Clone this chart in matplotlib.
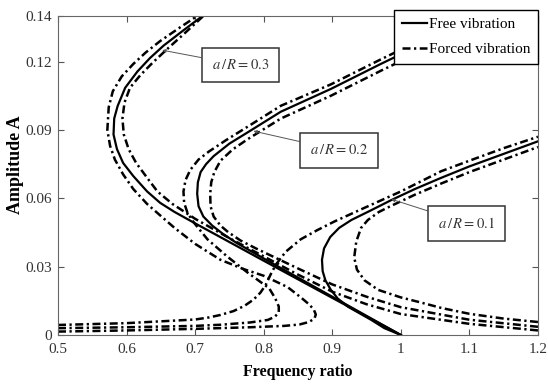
import matplotlib
matplotlib.use('Agg')
import matplotlib.pyplot as plt
from matplotlib.lines import Line2D

plt.rcParams['font.family'] = ['Liberation Serif', 'DejaVu Serif']
plt.rcParams['mathtext.fontset'] = 'stix'

# free vibration (backbone curves), frequency ratio / amplitude
free_01_x = [1.0, 0.976, 0.957, 0.94, 0.923, 0.908, 0.898, 0.89, 0.886, 0.885, 0.888, 0.897, 0.91, 0.928,
             0.955, 0.986, 1.02, 1.059, 1.1, 1.15, 1.2]
free_01_a = [0.0, 0.003, 0.0066, 0.0095, 0.0124, 0.016, 0.0198, 0.024, 0.028, 0.033, 0.038, 0.043, 0.047, 0.0505,
             0.0545, 0.0592, 0.064, 0.069, 0.074, 0.0795, 0.085]
free_02_x = [1.0, 0.9, 0.8, 0.76, 0.74, 0.725, 0.712, 0.705, 0.703, 0.704, 0.708, 0.716, 0.727, 0.75, 0.777,
             0.825, 0.898, 0.971, 1.04, 1.1]
free_02_a = [0.0, 0.0168, 0.0336, 0.0405, 0.0445, 0.048, 0.052, 0.0565, 0.062, 0.067, 0.0715, 0.075, 0.0785, 0.084,
             0.089, 0.098, 0.108, 0.119, 0.129, 0.138]
free_03_x = [1.0, 0.9, 0.8, 0.7, 0.67, 0.649, 0.63, 0.61, 0.595, 0.586, 0.581, 0.582, 0.587, 0.598, 0.6157, 0.634,
             0.654, 0.682, 0.712]
free_03_a = [0.0, 0.0163, 0.0326, 0.049, 0.054, 0.058, 0.063, 0.0697, 0.0755, 0.0816, 0.088, 0.095, 0.1005, 0.1085,
             0.1156, 0.1215, 0.127, 0.1335, 0.1403]

# forced vibration, branch left of backbone
forced_01_in_x = [0.5, 0.6, 0.7, 0.72, 0.737, 0.756, 0.772, 0.785, 0.795, 0.803, 0.81, 0.818, 0.832, 0.854, 0.878,
                  0.903, 0.952, 1.0, 1.059, 1.1, 1.15, 1.2]
forced_01_in_a = [0.0044, 0.0052, 0.0068, 0.0077, 0.0088, 0.0105, 0.0128, 0.0155, 0.0185, 0.022, 0.0265, 0.031,
                  0.0365, 0.042, 0.046, 0.0498, 0.0565, 0.063, 0.0719, 0.0765, 0.082, 0.087]
forced_02_in_x = [0.5, 0.6, 0.7, 0.737, 0.78, 0.806, 0.816, 0.822, 0.822, 0.817, 0.808, 0.777, 0.747, 0.718, 0.698,
                  0.689, 0.684, 0.683, 0.686, 0.693, 0.705, 0.72, 0.745, 0.777, 0.825, 0.898, 0.971, 1.04, 1.1]
forced_02_in_a = [0.003, 0.0034, 0.004, 0.0045, 0.0055, 0.0066, 0.008, 0.0098, 0.0125, 0.016, 0.0205, 0.0273, 0.0344,
                  0.042, 0.0494, 0.0535, 0.058, 0.063, 0.068, 0.0725, 0.077, 0.0805, 0.0855, 0.0915, 0.1006, 0.110,
                  0.121, 0.131, 0.1405]
forced_03_in_x = [0.5, 0.6, 0.7, 0.78, 0.83, 0.852, 0.866, 0.874, 0.876, 0.873, 0.866, 0.855, 0.835, 0.8, 0.77,
                  0.737, 0.7, 0.67, 0.649, 0.63, 0.61, 0.595, 0.583, 0.576, 0.572, 0.574, 0.58, 0.593, 0.61, 0.628,
                  0.649, 0.678, 0.708]
forced_03_in_a = [0.0015, 0.002, 0.0027, 0.0034, 0.004, 0.0046, 0.0057, 0.0072, 0.009, 0.0112, 0.0135, 0.0163,
                  0.021, 0.026, 0.029, 0.033, 0.04, 0.047, 0.0525, 0.0575, 0.064, 0.0705, 0.077, 0.083, 0.09, 0.1,
                  0.107, 0.1135, 0.119, 0.124, 0.129, 0.135, 0.141]

# forced vibration, branch right of backbone
forced_01_out_x = [1.2, 1.15, 1.1, 1.06, 1.03, 1.0, 0.967, 0.947, 0.936, 0.932, 0.935, 0.942, 0.952, 0.968, 0.986,
                   1.02, 1.059, 1.1, 1.15, 1.2]
forced_01_out_a = [0.0057, 0.0072, 0.0093, 0.0118, 0.0142, 0.0165, 0.0198, 0.024, 0.0287, 0.034, 0.041, 0.047, 0.0505,
                   0.054, 0.0567, 0.0615, 0.0665, 0.0715, 0.077, 0.0825]
forced_02_out_x = [1.2, 1.1, 1.0, 0.95, 0.9, 0.85, 0.82, 0.79, 0.766, 0.748, 0.737, 0.727, 0.7225, 0.722, 0.7235,
                   0.728, 0.737, 0.755, 0.777, 0.825, 0.898, 0.971, 1.04, 1.1]
forced_02_out_a = [0.0036, 0.0067, 0.0122, 0.0168, 0.0222, 0.0292, 0.0335, 0.0378, 0.0415, 0.0452, 0.048, 0.052,
                   0.0565, 0.062, 0.067, 0.0715, 0.0765, 0.0815, 0.086, 0.095, 0.105, 0.116, 0.126, 0.135]
forced_03_out_x = [1.2, 1.1, 1.0, 0.95, 0.9, 0.85, 0.8, 0.75, 0.7, 0.667, 0.645, 0.63, 0.614, 0.603, 0.596, 0.594,
                   0.597, 0.605, 0.62, 0.638, 0.66, 0.685, 0.712]
forced_03_out_a = [0.002, 0.0049, 0.0092, 0.0135, 0.019, 0.0265, 0.0345, 0.0425, 0.051, 0.0575, 0.063, 0.069, 0.0755,
                   0.0816, 0.088, 0.095, 0.102, 0.1085, 0.114, 0.1195, 0.1257, 0.1325, 0.14]

x_ticks = [0.5, 0.6, 0.7, 0.8, 0.9, 1.0, 1.1, 1.2]
x_tick_labels = ['0.5', '0.6', '0.7', '0.8', '0.9', '1', '1.1', '1.2']
y_ticks = [0, 0.03, 0.06, 0.09, 0.12, 0.14]
y_tick_labels = ['0', '0.03', '0.06', '0.09', '0.12', '0.14']

# annotation labels: (text, curve point, box centre)
notes = [(r'$a\,/\,R=0.3$', (0.652, 0.125), (0.766, 0.1185)),
         (r'$a\,/\,R=0.2$', (0.785, 0.0895), (0.91, 0.081)),
         (r'$a\,/\,R=0.1$', (0.986, 0.0596), (1.096, 0.049))]

fig = plt.figure(figsize=(5.48, 3.84), dpi=100)
ax = fig.add_axes([0.1058, 0.1276, 0.8759, 0.8307])

dashdot = (0, (3.2, 1.4, 0.9, 1.4))
for fx, fa in [(free_01_x, free_01_a), (free_02_x, free_02_a), (free_03_x, free_03_a)]:
    ax.plot(fx, fa, color='k', lw=1.6, ls='-')
for fx, fa in [(forced_01_in_x, forced_01_in_a), (forced_02_in_x, forced_02_in_a), (forced_03_in_x, forced_03_in_a),
               (forced_01_out_x, forced_01_out_a), (forced_02_out_x, forced_02_out_a),
               (forced_03_out_x, forced_03_out_a)]:
    ax.plot(fx, fa, color='k', lw=1.8, ls=dashdot)

for txt, pt, box in notes:
    ax.annotate(txt, xy=pt, xytext=box, ha='center', va='center', fontsize=10.5, color='#333333',
                bbox=dict(boxstyle='square,pad=0.7', fc='white', ec='#333333', lw=1.1),
                arrowprops=dict(arrowstyle='-|>', color='#555555', lw=0.7, mutation_scale=5, shrinkA=0, shrinkB=0))

ax.set_xlim(0.5, 1.2)
ax.set_ylim(0, 0.14)
ax.set_xticks(x_ticks)
ax.set_xticklabels(x_tick_labels)
ax.set_yticks(y_ticks)
ax.set_yticklabels(y_tick_labels)
ax.tick_params(direction='in', length=4, width=0.8, colors='#555555', labelcolor='#333333', labelsize=11,
               top=True, right=True)
ax.tick_params(axis='x', pad=6)
ax.tick_params(axis='y', pad=4)
for s in ax.spines.values():
    s.set_color('#666666')
    s.set_linewidth(0.8)

ax.set_xlabel('Frequency ratio', fontsize=11.5, fontweight='bold')
ax.xaxis.set_label_coords(0.5, -0.09)
ax.set_ylabel('Amplitude A', fontsize=13, fontweight='bold')
ax.yaxis.set_label_coords(-0.07, 0.535)

handles = [Line2D([], [], color='k', lw=1.6, ls='-'), Line2D([], [], color='k', lw=1.8, ls=dashdot)]
leg = ax.legend(handles, ['Free vibration', 'Forced vibration'], loc='upper right', bbox_to_anchor=(1.0, 1.02),
                fontsize=11, frameon=True, fancybox=False, framealpha=1, edgecolor='k', handlelength=1.6,
                handletextpad=0.15, borderpad=0.5, labelspacing=0.75, borderaxespad=0)
leg.get_frame().set_linewidth(1.0)
leg.set_zorder(5)

fig.savefig('out.png', dpi=100)
